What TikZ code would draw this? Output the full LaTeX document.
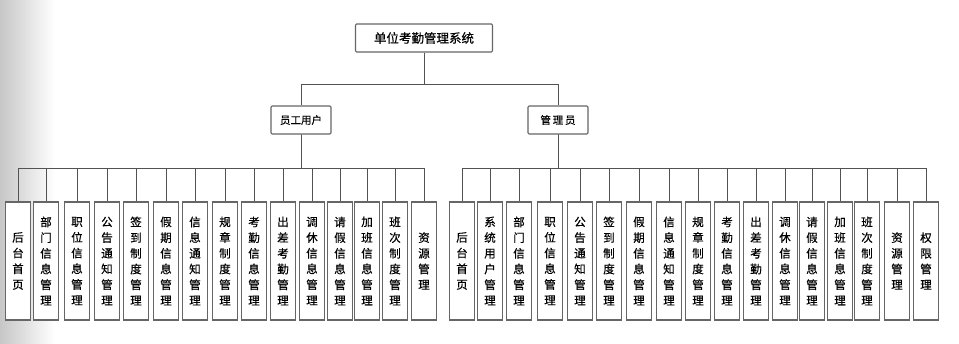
\documentclass[tikz,border=0pt]{standalone}
\usepackage{fontspec}
\setmainfont{Noto Sans CJK SC}[FakeBold=0.5]
\begin{document}
\begin{tikzpicture}[x=1pt,y=1pt,
  line/.style={draw=black!68,line width=1pt},
  boxstyle/.style={draw=black!60,line width=1.1pt,fill=white,inner sep=0pt},
  topbox/.style={boxstyle,minimum width=137pt,minimum height=28pt,rounded corners=1.2pt,font=\fontsize{12.5}{14}\selectfont},
  midbox/.style={boxstyle,minimum width=60pt,minimum height=28pt,rounded corners=1.2pt,font=\fontsize{10.5}{12}\selectfont},
  leaf/.style={boxstyle,minimum width=24.5pt,minimum height=118pt,align=center,font=\fontsize{11.5}{15.7}\selectfont}
]
\useasboundingbox (0,0) rectangle (959,-344);
\shade[left color=black!22,right color=white,draw=none] (0,0) rectangle (55,-344);

\node[topbox] (top) at (424,-38) {单位考勤管理系统};
\node[midbox] (emp) at (301,-120) {员工用户};
\node[midbox] (mgr) at (558,-120) {管\,理\,员};

\draw[line] (top.south) -- ++(0,-32) -| (emp.north);
\draw[line] (top.south) -- ++(0,-32) -| (mgr.north);

% employee leaves
\node[leaf] (e1) at (18,-261) {后\\台\\首\\页};
\node[leaf] (e2) at (46,-261) {部\\门\\信\\息\\管\\理};
\node[leaf] (e3) at (77,-261) {职\\位\\信\\息\\管\\理};
\node[leaf] (e4) at (107,-261) {公\\告\\通\\知\\管\\理};
\node[leaf] (e5) at (136,-261) {签\\到\\制\\度\\管\\理};
\node[leaf] (e6) at (166,-261) {假\\期\\信\\息\\管\\理};
\node[leaf] (e7) at (195,-261) {信\\息\\通\\知\\管\\理};
\node[leaf] (e8) at (225,-261) {规\\章\\制\\度\\管\\理};
\node[leaf] (e9) at (254,-261) {考\\勤\\信\\息\\管\\理};
\node[leaf] (e10) at (283,-261) {出\\差\\考\\勤\\管\\理};
\node[leaf] (e11) at (312,-261) {调\\休\\信\\息\\管\\理};
\node[leaf] (e12) at (340,-261) {请\\假\\信\\息\\管\\理};
\node[leaf] (e13) at (367,-261) {加\\班\\信\\息\\管\\理};
\node[leaf] (e14) at (395,-261) {班\\次\\制\\度\\管\\理};
\node[leaf] (e15) at (424,-261) {资\\源\\管\\理};

\foreach \i in {1,...,15}{
  \draw[line] (emp.south) -- ++(0,-33.5) -| (e\i.north);
}

% manager leaves
\node[leaf] (m1) at (462,-261) {后\\台\\首\\页};
\node[leaf] (m2) at (490,-261) {系\\统\\用\\户\\管\\理};
\node[leaf] (m3) at (519,-261) {部\\门\\信\\息\\管\\理};
\node[leaf] (m4) at (550,-261) {职\\位\\信\\息\\管\\理};
\node[leaf] (m5) at (580,-261) {公\\告\\通\\知\\管\\理};
\node[leaf] (m6) at (609,-261) {签\\到\\制\\度\\管\\理};
\node[leaf] (m7) at (639,-261) {假\\期\\信\\息\\管\\理};
\node[leaf] (m8) at (669,-261) {信\\息\\通\\知\\管\\理};
\node[leaf] (m9) at (698,-261) {规\\章\\制\\度\\管\\理};
\node[leaf] (m10) at (727,-261) {考\\勤\\信\\息\\管\\理};
\node[leaf] (m11) at (756,-261) {出\\差\\考\\勤\\管\\理};
\node[leaf] (m12) at (785,-261) {调\\休\\信\\息\\管\\理};
\node[leaf] (m13) at (812,-261) {请\\假\\信\\息\\管\\理};
\node[leaf] (m14) at (840,-261) {加\\班\\信\\息\\管\\理};
\node[leaf] (m15) at (867,-261) {班\\次\\制\\度\\管\\理};
\node[leaf] (m16) at (897,-261) {资\\源\\管\\理};
\node[leaf] (m17) at (926,-261) {权\\限\\管\\理};

\foreach \i in {1,...,17}{
  \draw[line] (mgr.south) -- ++(0,-33.5) -| (m\i.north);
}
\end{tikzpicture}
\end{document}
